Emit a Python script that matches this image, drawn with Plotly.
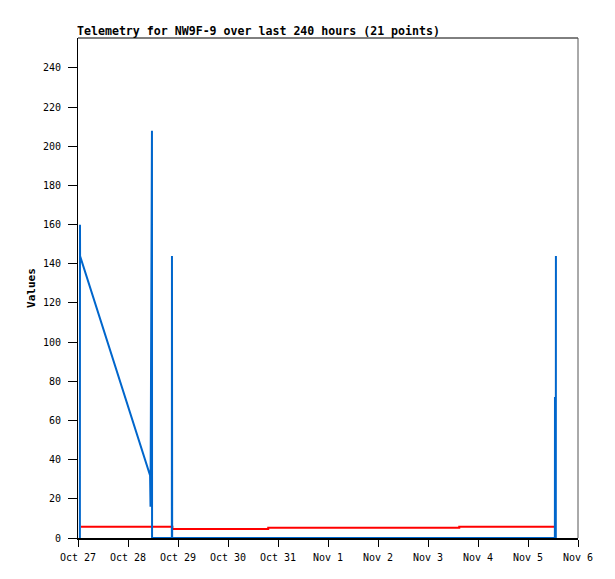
import plotly.graph_objects as go
from datetime import datetime, timedelta

start = datetime(2023, 10, 27)

# Blue series (hours since Oct 27 00:00, value)
blue_hours = [0.9, 0.95, 1.0, 34.6, 34.8, 35.5, 35.55, 45.05, 45.1, 45.2, 228.9, 228.95, 229.0, 229.35, 229.4]
blue_vals = [0, 160, 144, 32, 16, 208, 0, 0, 144, 0, 0, 72, 0, 0, 144]

# Red series (step line)
red_hours = [1.44, 45.3, 91.3, 183.0, 228.5]
red_vals = [5.8, 4.6, 5.2, 5.8, 5.8]

y_ticks = list(range(0, 241, 20))
x_tick_days = list(range(0, 11))

title_text = "Telemetry for NW9F-9 over last 240 hours (21 points)"
y_title = "Values"

to_dt = lambda h: start + timedelta(hours=h)

fig = go.Figure()
fig.add_trace(go.Scatter(
    x=[to_dt(h) for h in red_hours], y=red_vals, mode="lines",
    line=dict(color="#FF0000", width=2, shape="hv"), showlegend=False))
fig.add_trace(go.Scatter(
    x=[to_dt(h) for h in blue_hours], y=blue_vals, mode="lines",
    line=dict(color="#0066CC", width=2), showlegend=False))

mono = "DejaVu Sans Mono"
W, H = 607, 571  # page body adds 8px margin
tickvals = [start + timedelta(days=d) for d in x_tick_days]
fig.update_layout(
    width=W, height=H,
    margin=dict(l=70, r=37, t=30, b=41),
    paper_bgcolor="white", plot_bgcolor="white",
    font=dict(family=mono, size=10, color="black"),
    title=dict(text="<b>" + title_text + "</b>", x=69/W, xanchor="left",
               xref="container", y=1 - 23/H, yref="container", yanchor="middle",
               font=dict(family=mono, size=11.6, color="black")),
    xaxis=dict(range=[tickvals[0], tickvals[-1]], tickvals=tickvals,
               ticktext=[t.strftime("%b ") + str(t.day) for t in tickvals],
               showgrid=False, zeroline=False, showline=True, linecolor="black",
               linewidth=2, ticks="outside", ticklen=7, tickcolor="black",
               ticklabelstandoff=2,
               layer="above traces", tickfont=dict(family=mono, size=10)),
    yaxis=dict(range=[0, 255.3], tickvals=y_ticks, showgrid=False, zeroline=False,
               showline=True, linecolor="black", linewidth=1, ticks="outside",
               ticklen=9, tickcolor="black", tickfont=dict(family=mono, size=10),
               ticklabelstandoff=5,
               title=dict(text="<b>" + y_title + "</b>", font=dict(family=mono, size=11),
                          standoff=5)),
    shapes=[
        dict(type="line", xref="paper", yref="paper", x0=0, x1=1, y0=1, y1=1,
             line=dict(color="black", width=1)),
        dict(type="line", xref="paper", yref="paper", x0=1, x1=1, y0=0, y1=1,
             line=dict(color="#555555", width=1)),
    ],
)
fig.write_html("out.html")
